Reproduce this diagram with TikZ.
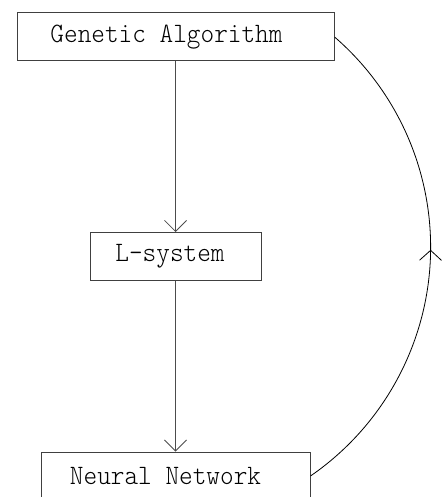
\documentclass[tikz,border=0pt]{standalone}
\usepackage{fontspec}
\newfontfamily\lighttt{Latin Modern Mono Light}
\usetikzlibrary{arrows.meta,decorations.markings}
\begin{document}
\begin{tikzpicture}[x=1pt,y=-1pt,
  line width=0.8pt,
  box/.style={draw=black!75, line width=1pt, rectangle, inner sep=0pt, minimum height=48pt,
    font=\fontsize{26}{30}\selectfont\lighttt},
  barb/.style={-{Straight Barb[length=11pt,width=22pt,line width=0.8pt]}},
  conn/.style={draw=black!70, line width=1pt, barb}]
\useasboundingbox (0,0) rectangle (447,497);
\clip (0,0) rectangle (447,497);
\node[box, minimum width=317pt] (ga) at (175.5,37) {\scalebox{1}[1.08]{Genetic Algorithm}\hspace*{18pt}};
\node[box, minimum width=171pt] (ls) at (175.5,256.5) {\scalebox{1}[1.08]{L-system}\hspace*{11pt}};
\node[box, minimum width=269pt] (nn) at (175.5,476) {\scalebox{1}[1.08]{Neural Network}\hspace*{20pt}};
\draw[conn] (ga) -- (ls);
\draw[conn] (ls) -- (nn);
\draw[line width=0.8pt, postaction={decorate}, decoration={markings,
    mark=at position 0.525 with {\arrow{Straight Barb[length=10pt,width=22pt,line width=0.8pt]}}}]
  (nn.east) arc[start angle=55.4, end angle=-49.1, radius=278];
\end{tikzpicture}
\end{document}
